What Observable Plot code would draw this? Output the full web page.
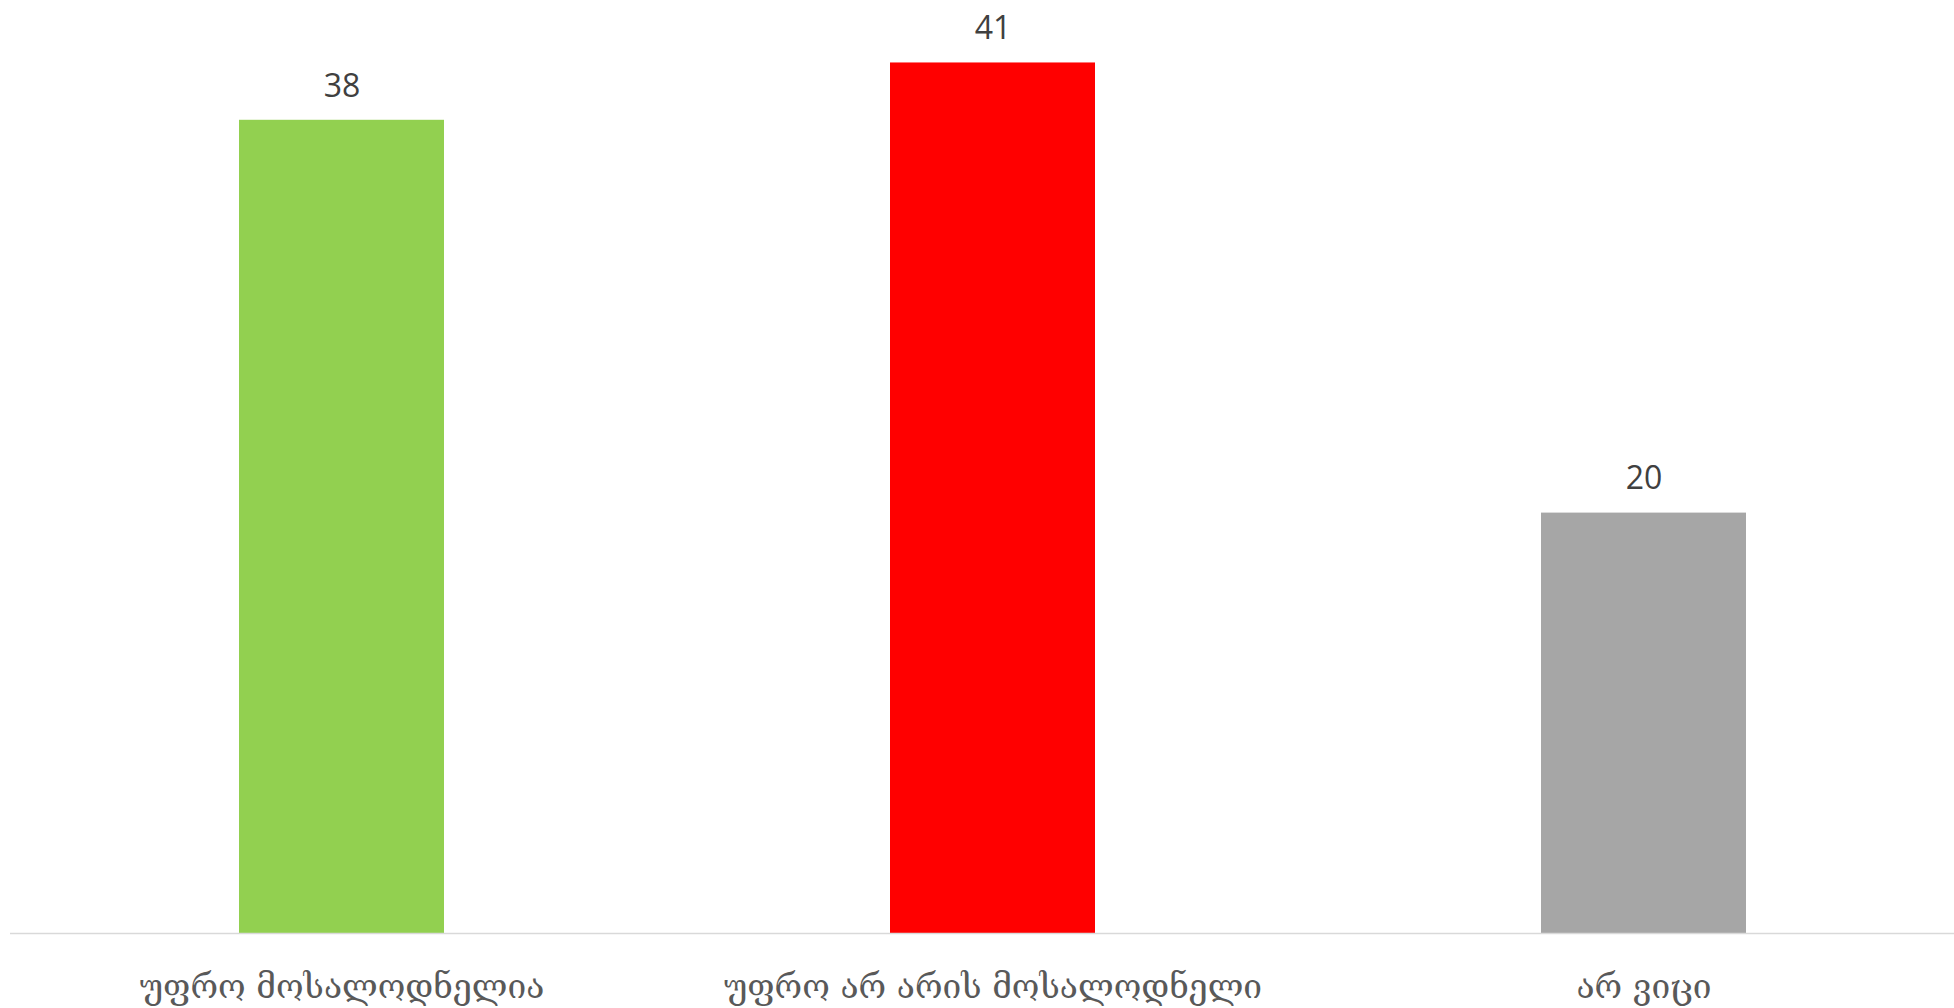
<!DOCTYPE html>
<html>
<head>
<meta charset="utf-8">
<script src="https://cdn.jsdelivr.net/npm/d3@7"></script>
<script src="https://cdn.jsdelivr.net/npm/@observablehq/plot@0.6"></script>
<style>
  html, body { margin: 0; padding: 0; background: #ffffff; }
  #chart { width: 1954px; height: 1008px; }
</style>
</head>
<body>
<div id="chart"></div>
<script>
const categories = ["უფრო მოსალოდნელია", "უფრო არ არის მოსალოდნელი", "არ ვიცი"];
const values = [38.3, 41.0, 19.8];
const labels = ["38", "41", "20"];
const colors = ["#92d050", "#ff0000", "#a6a6a6"];

const data = categories.map((c, i) => ({category: c, value: values[i], label: labels[i], color: colors[i]}));

const chart = Plot.plot({
  width: 1954,
  height: 1008,
  marginLeft: 10,
  marginRight: 0,
  marginTop: 20,
  marginBottom: 75,
  style: {background: "#ffffff", fontFamily: "'DejaVu Serif', serif"},
  x: {domain: categories, range: [14.6, 1970], paddingInner: 0.6855, paddingOuter: 0.3427, label: null},
  y: {domain: [0, 43], axis: null},
  marks: [
    Plot.barY(data, {x: "category", y: "value", fill: "color"}),
    Plot.ruleY([0], {stroke: "#d9d9d9", strokeWidth: 1.5}),
    Plot.text(data, {x: "category", y: "value", text: "label", dy: -34, fontSize: 32, fill: "#404040", fontFamily: "'Open Sans', sans-serif"}),
    Plot.axisX({tickSize: 0, tickPadding: 41, fontSize: 33.5, color: "#595959", label: null, fontFamily: "'DejaVu Serif', serif"})
  ]
});
document.getElementById("chart").appendChild(chart);
</script>
</body>
</html>
